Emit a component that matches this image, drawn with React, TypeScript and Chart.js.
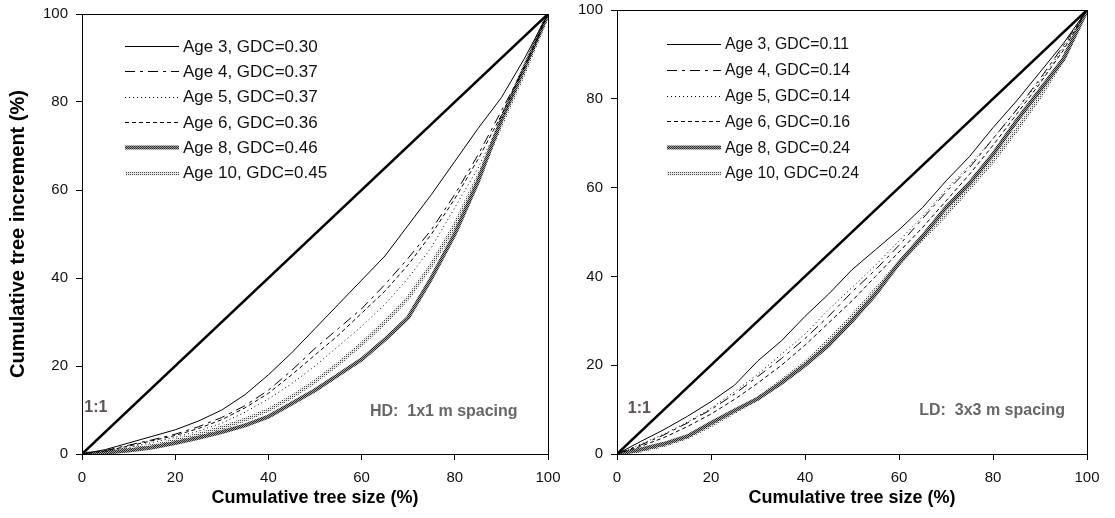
import React, { useEffect, useRef } from 'react';
import { Chart, registerables } from 'chart.js';
Chart.register(...registerables);

// ---------- data ----------
const cumSize = [0, 5, 10, 15, 20, 25, 30, 35, 40, 45, 50, 55, 60, 65, 70, 75, 80, 85, 90, 95, 100];
const axisTicks = [0, 20, 40, 60, 80, 100];
const oneToOneX = [0, 100];
const oneToOneY = [0, 100];

// HD: 1x1 m spacing
const hdAge3 = [0, 1, 2.5, 4, 5.5, 7.5, 10, 13.5, 18, 23, 28.5, 34, 39.5, 45, 52, 59, 66.5, 74, 81, 90, 100];
const hdAge4 = [0, 0.8, 2, 3.2, 4.5, 6.2, 8.3, 11, 14.5, 19, 24, 28.5, 33, 38.5, 44.5, 51, 59, 68, 78, 88, 100];
const hdAge5 = [0, 0.6, 1.5, 2.6, 3.8, 5.2, 7, 9.5, 12.5, 16, 20, 24.5, 29, 34, 40, 47, 56, 65, 76, 87, 100];
const hdAge6 = [0, 0.7, 1.8, 3, 4.2, 5.8, 7.8, 10.5, 13.8, 18, 22.5, 27, 32, 37, 43, 50, 58, 67, 77, 88, 100];
const hdAge8 = [0, 0.3, 0.8, 1.5, 2.5, 3.7, 5, 6.5, 8.5, 11.5, 14.5, 18, 21.5, 26, 31, 40, 50, 62, 76, 88, 100];
const hdAge10 = [0, 0.4, 1, 1.8, 3, 4.4, 6, 7.8, 10, 13, 16.5, 20.5, 25, 30, 35.5, 43, 52, 63, 75, 87, 100];
const hdLabels = ['Age 3, GDC=0.30', 'Age 4, GDC=0.37', 'Age 5, GDC=0.37', 'Age 6, GDC=0.36', 'Age 8, GDC=0.46', 'Age 10, GDC=0.45'];

// LD: 3x3 m spacing
const ldAge3 = [0, 2.8, 5.5, 8.5, 11.8, 15.5, 21, 25.5, 31, 36, 41.5, 46, 50.5, 55.5, 61.5, 67, 73.5, 79.5, 86, 92.5, 100];
const ldAge4 = [0, 2, 4.3, 7, 10, 13.5, 17.5, 21.5, 26, 31, 36.5, 41.5, 47, 53, 59, 64.5, 71, 77.5, 84.5, 92, 100];
const ldAge5 = [0, 2.2, 4.5, 7.2, 10.3, 14, 18, 22.5, 27, 32.5, 37.5, 42.5, 48, 53.5, 59.5, 65, 71, 77.5, 84, 91.5, 100];
const ldAge6 = [0, 1.7, 3.7, 6.2, 9, 12.3, 16, 20, 24.5, 29.5, 34.5, 40, 45.5, 51, 57, 63, 69.5, 76.5, 83.5, 91, 100];
const ldAge8 = [0, 1, 2.3, 4, 7, 9.8, 12.5, 16, 20, 24.5, 30, 36, 43, 49, 55.5, 61, 67.5, 75, 82, 89, 100];
const ldAge10 = [0, 0.8, 2, 3.8, 6.5, 9.5, 12.5, 16.5, 20.5, 25.5, 31, 37, 43, 48.5, 54, 60, 66, 73, 80.5, 89, 100];
const ldLabels = ['Age 3, GDC=0.11', 'Age 4, GDC=0.14', 'Age 5, GDC=0.14', 'Age 6, GDC=0.16', 'Age 8, GDC=0.24', 'Age 10, GDC=0.24'];

const FONT = "'Liberation Sans', Arial, sans-serif";

function pts(xs: number[], ys: number[]) {
  return xs.map((x, i) => ({ x, y: ys[i] }));
}

function makePattern(ctx: CanvasRenderingContext2D, dark: string, light: string, dense: boolean) {
  const c = document.createElement('canvas');
  c.width = 2;
  c.height = 2;
  const g = c.getContext('2d')!;
  g.fillStyle = light;
  g.fillRect(0, 0, 2, 2);
  g.fillStyle = dark;
  g.fillRect(0, 0, 1, 1);
  if (dense) g.fillRect(1, 1, 1, 1);
  return ctx.createPattern(c, 'repeat')!;
}

const framePlugin = {
  id: 'frame',
  afterDraw(chart: any) {
    const { ctx, chartArea } = chart;
    ctx.save();
    ctx.strokeStyle = '#000';
    ctx.lineWidth = 1;
    const l = Math.round(chartArea.left) + 0.5;
    const t = Math.round(chartArea.top) + 0.5;
    const r = Math.round(chartArea.right) + 0.5;
    const b = Math.round(chartArea.bottom) + 0.5;
    ctx.strokeRect(l, t, r - l, b - t);
    ctx.restore();
  },
};

const legendPlugin = {
  id: 'customLegend',
  afterDatasetsDraw(chart: any, _args: any, opts: any) {
    const { ctx, chartArea } = chart;
    const x0 = chartArea.left + opts.dx;
    let y = chartArea.top + opts.dy;
    ctx.save();
    chart.data.datasets.forEach((ds: any) => {
      if (ds.noLegend) return;
      ctx.beginPath();
      ctx.setLineDash(ds.borderDash || []);
      ctx.lineWidth = ds.borderWidth;
      ctx.strokeStyle = ds.borderColor;
      ctx.moveTo(x0, Math.round(y) + 0.5);
      ctx.lineTo(x0 + opts.len, Math.round(y) + 0.5);
      ctx.stroke();
      ctx.setLineDash([]);
      ctx.fillStyle = '#111';
      ctx.font = `${opts.fontSize}px ${FONT}`;
      ctx.textBaseline = 'middle';
      ctx.textAlign = 'left';
      ctx.fillText(ds.label, x0 + opts.len + opts.gap, y + 1);
      y += opts.step;
    });
    ctx.restore();
  },
};

const notesPlugin = {
  id: 'notes',
  afterDatasetsDraw(chart: any, _args: any, opts: any) {
    const { ctx, scales } = chart;
    ctx.save();
    (opts.items || []).forEach((it: any) => {
      ctx.font = it.font;
      ctx.fillStyle = it.color;
      ctx.textAlign = 'left';
      ctx.textBaseline = 'middle';
      ctx.fillText(it.text, scales.x.getPixelForValue(it.x), scales.y.getPixelForValue(it.y));
    });
    ctx.restore();
  },
};

function buildDatasets(ctx: CanvasRenderingContext2D, series: number[][], labels: string[]) {
  const age8Pat = makePattern(ctx, '#2a2a2a', '#a0a0a0', true);
  const age10Pat = makePattern(ctx, '#4a4a4a', '#e8e8e8', false);
  const styles = [
    { borderColor: '#000', borderWidth: 1, borderDash: [] as number[] },
    { borderColor: '#000', borderWidth: 1, borderDash: [10, 5, 3, 5] },
    { borderColor: '#000', borderWidth: 1, borderDash: [1, 3] },
    { borderColor: '#000', borderWidth: 1, borderDash: [4, 3] },
    { borderColor: age8Pat, borderWidth: 4, borderDash: [] as number[] },
    { borderColor: age10Pat, borderWidth: 4, borderDash: [] as number[] },
  ];
  const ds: any[] = [
    {
      label: '1:1',
      data: pts(oneToOneX, oneToOneY),
      borderColor: '#000',
      borderWidth: 2.5,
      pointRadius: 0,
      noLegend: true,
    },
  ];
  series.forEach((s, i) => {
    ds.push({
      label: labels[i],
      data: pts(cumSize, s),
      ...styles[i],
      pointRadius: 0,
      tension: 0,
      fill: false,
    });
  });
  return ds;
}

function makeOptions(cfg: {
  yWidth: number;
  padTop: number;
  padRight: number;
  showYTitle: boolean;
  legendDx: number;
  legendDy: number;
  legendStep: number;
  legendFont: number;
  notes: any[];
}): any {
  const tickFont = { family: FONT, size: 15 };
  const titleFont = { family: FONT, size: 18, weight: 'bold' as const };
  return {
    animation: false,
    responsive: false,
    maintainAspectRatio: false,
    layout: { padding: { top: cfg.padTop, right: cfg.padRight, left: 0, bottom: 0 } },
    plugins: {
      legend: { display: false },
      tooltip: { enabled: false },
      customLegend: {
        dx: cfg.legendDx,
        dy: cfg.legendDy,
        len: 54,
        gap: 4,
        step: cfg.legendStep,
        fontSize: cfg.legendFont,
      },
      notes: { items: cfg.notes },
    },
    scales: {
      x: {
        type: 'linear',
        min: 0,
        max: 100,
        afterBuildTicks: (s: any) => {
          s.ticks = axisTicks.map((v) => ({ value: v }));
        },
        afterFit: (s: any) => {
          s.height = 64;
          s.paddingLeft = 0;
          s.paddingRight = 0;
        },
        ticks: { font: tickFont, color: '#111', padding: 9, maxRotation: 0, autoSkip: false },
        grid: { drawOnChartArea: false, drawTicks: true, tickLength: 6, color: '#000' },
        border: { display: true, color: '#000', width: 1 },
        title: {
          display: true,
          text: 'Cumulative tree size (%)',
          font: titleFont,
          color: '#000',
          padding: { top: 0, bottom: 9 },
        },
      },
      y: {
        type: 'linear',
        min: 0,
        max: 100,
        afterBuildTicks: (s: any) => {
          s.ticks = axisTicks.map((v) => ({ value: v }));
        },
        afterFit: (s: any) => {
          s.width = cfg.yWidth;
          s.paddingTop = 0;
          s.paddingBottom = 0;
        },
        ticks: { font: tickFont, color: '#111', padding: 8, autoSkip: false },
        grid: { drawOnChartArea: false, drawTicks: true, tickLength: 6, color: '#000' },
        border: { display: true, color: '#000', width: 1 },
        title: {
          display: cfg.showYTitle,
          text: 'Cumulative tree increment (%)',
          font: { family: FONT, size: 20, weight: 'bold' as const },
          color: '#000',
          padding: { top: 6, bottom: 0 },
        },
      },
    },
  };
}

function Panel(props: {
  left: number;
  width: number;
  series: number[][];
  labels: string[];
  cfg: any;
}) {
  const ref = useRef<HTMLCanvasElement | null>(null);
  useEffect(() => {
    const canvas = ref.current!;
    const ctx = canvas.getContext('2d')!;
    const chart = new Chart(ctx, {
      type: 'line',
      data: { datasets: buildDatasets(ctx, props.series, props.labels) },
      options: makeOptions(props.cfg),
      plugins: [framePlugin, legendPlugin, notesPlugin],
    });
    return () => chart.destroy();
  }, []);
  return (
    <canvas
      ref={ref}
      width={props.width}
      height={518}
      style={{ position: 'absolute', left: props.left, top: 0, width: props.width, height: 518 }}
    />
  );
}

export default function App() {
  const hdNotes = [
    { text: '1:1', x: 0.5, y: 10.5, font: `bold 16px ${FONT}`, color: '#5b5450' },
    { text: 'HD:  1x1 m spacing', x: 61.8, y: 9.6, font: `bold 16px ${FONT}`, color: '#666' },
  ];
  const ldNotes = [
    { text: '1:1', x: 2.3, y: 10.3, font: `bold 16px ${FONT}`, color: '#5b5450' },
    { text: 'LD:  3x3 m spacing', x: 64.3, y: 9.8, font: `bold 16px ${FONT}`, color: '#666' },
  ];
  return (
    <div style={{ position: 'absolute', left: 0, top: 0, width: 1115, height: 518, background: '#fff' }}>
      <Panel
        left={0}
        width={560}
        series={[hdAge3, hdAge4, hdAge5, hdAge6, hdAge8, hdAge10]}
        labels={hdLabels}
        cfg={{
          yWidth: 82,
          padTop: 14,
          padRight: 12,
          showYTitle: true,
          legendDx: 43,
          legendDy: 32,
          legendStep: 25.3,
          legendFont: 17,
          notes: hdNotes,
        }}
      />
      <Panel
        left={560}
        width={555}
        series={[ldAge3, ldAge4, ldAge5, ldAge6, ldAge8, ldAge10]}
        labels={ldLabels}
        cfg={{
          yWidth: 57,
          padTop: 10,
          padRight: 28,
          showYTitle: false,
          legendDx: 50,
          legendDy: 34,
          legendStep: 25.8,
          legendFont: 15.8,
          notes: ldNotes,
        }}
      />
    </div>
  );
}
